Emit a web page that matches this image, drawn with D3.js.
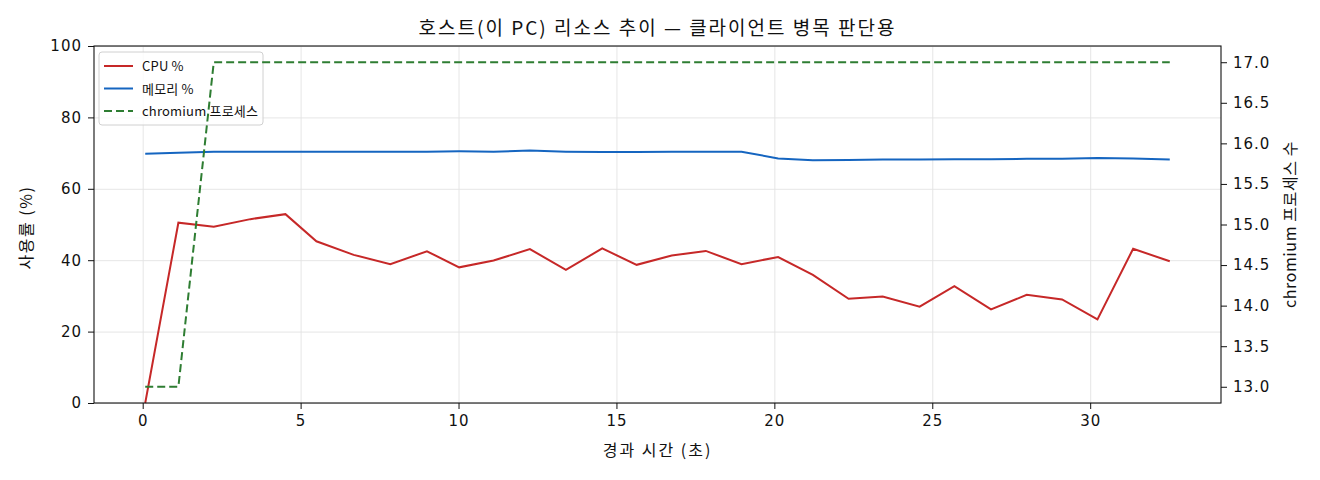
<!DOCTYPE html>
<head>
	<meta charset="utf-8" />
	<style>
		body {
			margin: 0;
			background: #fff;
			font-family: 'Noto Sans CJK KR', 'DejaVu Sans', sans-serif;
		}
		.grid line { stroke: #e3e3e3; stroke-width: 0.9; }
		.grid path { display: none; }
		.axis text { font-family: 'DejaVu Sans', sans-serif; font-size: 15px; fill: #111; letter-spacing: 1px; }
		.axis path, .axis line { stroke: #111; }
	</style>
</head>
<body>
	<div id="chart-area"></div>
	<script src="https://cdnjs.cloudflare.com/ajax/libs/d3/7.8.5/d3.min.js"></script>
	<script>
		// elapsed seconds of each sample
		var times = [0.08, 1.13, 2.25, 3.41, 4.52, 5.5, 6.68, 7.84, 9.0, 10.02,
			11.11, 12.26, 13.4, 14.55, 15.64, 16.75, 17.83, 18.96, 20.12, 21.22,
			22.35, 23.43, 24.6, 25.7, 26.86, 27.99, 29.11, 30.23, 31.36, 32.52];
		var cpu = [0, 50.5, 49.4, 51.5, 52.9, 45.3, 41.5, 38.9, 42.5, 38.0,
			39.9, 43.1, 37.3, 43.3, 38.7, 41.3, 42.6, 38.9, 40.9, 35.9,
			29.2, 29.8, 27.0, 32.7, 26.2, 30.3, 29.0, 23.4, 43.2, 39.7];
		var mem = [69.8, 70.1, 70.4, 70.4, 70.4, 70.4, 70.4, 70.4, 70.4, 70.5,
			70.4, 70.7, 70.4, 70.3, 70.3, 70.4, 70.4, 70.4, 68.5, 68.0,
			68.1, 68.2, 68.2, 68.3, 68.3, 68.4, 68.4, 68.6, 68.5, 68.2];
		var procs = [13, 13, 17, 17, 17, 17, 17, 17, 17, 17,
			17, 17, 17, 17, 17, 17, 17, 17, 17, 17,
			17, 17, 17, 17, 17, 17, 17, 17, 17, 17];

		var xTicks = [0, 5, 10, 15, 20, 25, 30];
		var yTicks = [0, 20, 40, 60, 80, 100];
		var y2Ticks = [13, 13.5, 14, 14.5, 15, 15.5, 16, 16.5, 17];

		var series = [
			{ name: 'CPU %', values: cpu, color: '#c62828', axis: 'left' },
			{ name: '메모리 %', values: mem, color: '#1565c0', axis: 'left' },
			{ name: 'chromium 프로세스', values: procs, color: '#2e7d32', axis: 'right', dash: '8,4' },
		];

		var W = 1320, H = 480;
		var margins = { top: 46, right: 99, bottom: 77, left: 94 };
		var width = W - margins.left - margins.right;
		var height = H - margins.top - margins.bottom;

		var xPad = (d3.max(times) - d3.min(times)) * 0.05;
		var x = d3.scaleLinear()
			.domain([d3.min(times) - xPad, d3.max(times) + xPad])
			.range([0, width]);
		var y = d3.scaleLinear().domain([0, 100]).range([height, 0]);
		var y2 = d3.scaleLinear().domain([12.8, 17.2]).range([height, 0]);

		var svg = d3.select('#chart-area').append('svg')
			.attr('width', W).attr('height', H);
		var g = svg.append('g')
			.attr('transform', `translate(${margins.left},${margins.top})`);

		// grid
		g.append('g').attr('class', 'grid')
			.attr('transform', `translate(0,${height})`)
			.call(d3.axisBottom(x).tickValues(xTicks).tickSize(-height).tickFormat(''));
		g.append('g').attr('class', 'grid')
			.call(d3.axisLeft(y).tickValues(yTicks).tickSize(-width).tickFormat(''));

		function drawLine(s) {
			var sc = s.axis === 'left' ? y : y2;
			var line = d3.line().x((d, i) => x(times[i])).y(d => sc(d));
			g.append('path')
				.datum(s.values)
				.attr('fill', 'none')
				.attr('stroke', s.color)
				.attr('stroke-width', 2)
				.attr('stroke-dasharray', s.dash || null)
				.attr('d', line);
		}

		// left-axis lines sit under the legend, the right-axis one above it
		series.filter(s => s.axis === 'left').forEach(drawLine);

		// legend
		var lg = g.append('g').attr('transform', 'translate(5,6)');
		lg.append('rect')
			.attr('width', 164).attr('height', 73).attr('rx', 3)
			.attr('fill', 'rgba(255,255,255,0.8)').attr('stroke', '#d0d0d0');
		series.forEach((s, i) => {
			var yy = 14 + i * 22.5;
			lg.append('line')
				.attr('x1', 5).attr('x2', 34).attr('y1', yy).attr('y2', yy)
				.attr('stroke', s.color).attr('stroke-width', 2)
				.attr('stroke-dasharray', s.dash || null);
			lg.append('text')
				.attr('x', 43).attr('y', yy + 5)
				.style('font-size', '13px').style('letter-spacing', '0.2px').style('fill', '#111')
				.text(s.name);
		});

		series.filter(s => s.axis === 'right').forEach(drawLine);

		// frame
		g.append('rect')
			.attr('width', width).attr('height', height)
			.attr('fill', 'none').attr('stroke', '#111').attr('stroke-width', 1.1);

		// axes
		g.append('g').attr('class', 'axis')
			.attr('transform', `translate(0,${height})`)
			.call(d3.axisBottom(x).tickValues(xTicks).tickSize(6).tickPadding(6))
			.call(a => a.select('.domain').remove());
		g.append('g').attr('class', 'axis')
			.call(d3.axisLeft(y).tickValues(yTicks).tickSize(6).tickPadding(6))
			.call(a => a.select('.domain').remove());
		g.append('g').attr('class', 'axis')
			.attr('transform', `translate(${width},0)`)
			.call(d3.axisRight(y2).tickValues(y2Ticks).tickFormat(d3.format('.1f')).tickSize(6).tickPadding(6))
			.call(a => a.select('.domain').remove());

		// title and labels
		svg.append('text')
			.attr('x', margins.left + width / 2).attr('y', 35)
			.attr('text-anchor', 'middle')
			.style('font-size', '19px').style('letter-spacing', '2px').style('fill', '#111')
			.text('호스트(이 PC) 리소스 추이 — 클라이언트 병목 판단용');
		svg.append('text')
			.attr('x', margins.left + width / 2).attr('y', 456)
			.attr('text-anchor', 'middle')
			.style('font-size', '16px').style('letter-spacing', '2px').style('fill', '#111')
			.text('경과 시간 (초)');
		svg.append('text')
			.attr('transform', `translate(32,${margins.top + height / 2 + 3}) rotate(-90)`)
			.attr('text-anchor', 'middle')
			.style('font-size', '16px').style('letter-spacing', '1.5px').style('fill', '#111')
			.text('사용률 (%)');
		svg.append('text')
			.attr('transform', `translate(1296,${margins.top + height / 2}) rotate(-90)`)
			.attr('text-anchor', 'middle')
			.style('font-size', '16px').style('letter-spacing', '0.6px').style('fill', '#111')
			.text('chromium 프로세스 수');
	</script>
</body>
